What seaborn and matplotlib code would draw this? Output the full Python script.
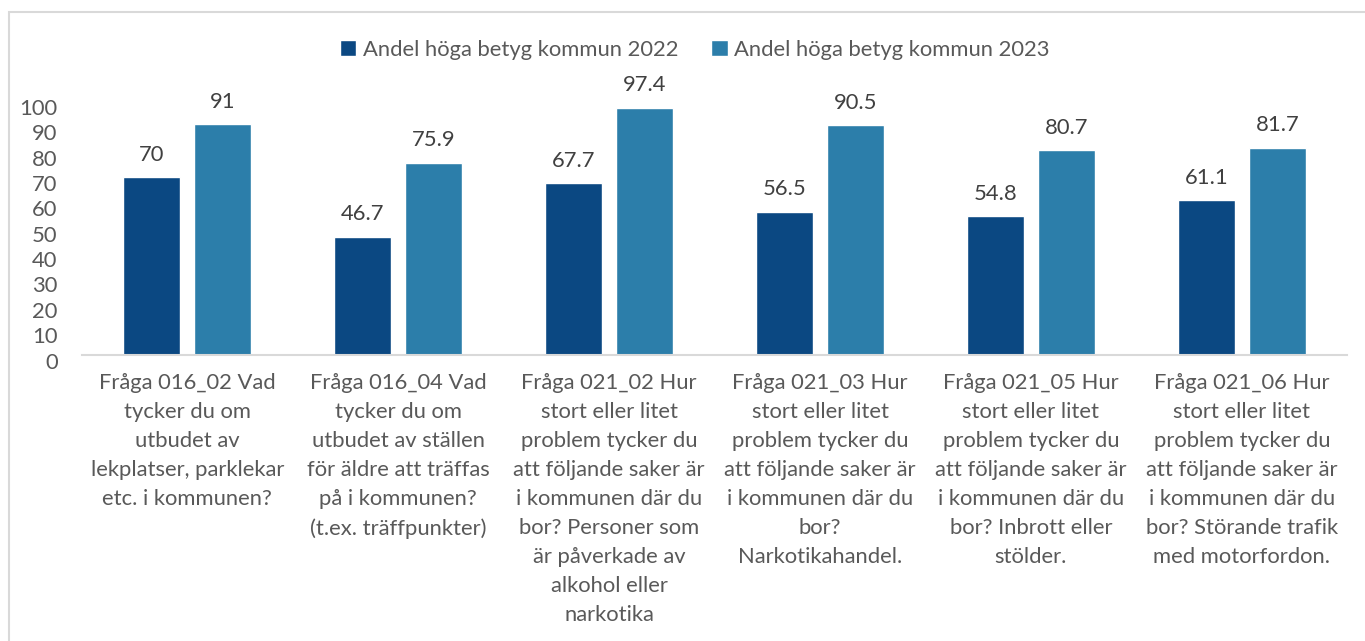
import pandas as pd
import seaborn as sns
import matplotlib.pyplot as plt
import matplotlib.transforms as mtrans
from matplotlib.patches import Rectangle

# question labels (wrapped as in the original)
questions = [
    "Fråga 016_02 Vad\ntycker du om\nutbudet av\nlekplatser, parklekar\netc. i kommunen?",
    "Fråga 016_04 Vad\ntycker du om\nutbudet av ställen\nför äldre att träffas\npå i kommunen?\n(t.ex. träffpunkter)",
    "Fråga 021_02 Hur\nstort eller litet\nproblem tycker du\natt följande saker är\ni kommunen där du\nbor? Personer som\när påverkade av\nalkohol eller\nnarkotika",
    "Fråga 021_03 Hur\nstort eller litet\nproblem tycker du\natt följande saker är\ni kommunen där du\nbor?\nNarkotikahandel.",
    "Fråga 021_05 Hur\nstort eller litet\nproblem tycker du\natt följande saker är\ni kommunen där du\nbor? Inbrott eller\nstölder.",
    "Fråga 021_06 Hur\nstort eller litet\nproblem tycker du\natt följande saker är\ni kommunen där du\nbor? Störande trafik\nmed motorfordon.",
]
series = ["Andel höga betyg kommun 2022", "Andel höga betyg kommun 2023"]
values_2022 = [70, 46.7, 67.7, 56.5, 54.8, 61.1]
values_2023 = [91, 75.9, 97.4, 90.5, 80.7, 81.7]
value_labels_2022 = ["70", "46.7", "67.7", "56.5", "54.8", "61.1"]
value_labels_2023 = ["91", "75.9", "97.4", "90.5", "80.7", "81.7"]

df = pd.DataFrame({
    "fraga": questions * 2,
    "serie": [series[0]] * 6 + [series[1]] * 6,
    "andel": values_2022 + values_2023,
})

sns.set_style("white")
plt.rcParams["font.family"] = ["Lato", "DejaVu Sans"]
grey = "#595959"
fs = 15.8

fig = plt.figure(figsize=(13.65, 6.41), dpi=100)
ax = fig.add_axes([0.060, 0.4462, 0.927, 0.3956])

sns.barplot(data=df, x="fraga", y="andel", hue="serie",
            palette=["#0B4882", "#2C7EAA"], width=0.674, gap=0.197,
            saturation=1, legend=True, ax=ax)

# data labels
ax.bar_label(ax.containers[0], labels=value_labels_2022, padding=9,
             fontsize=fs, color="#404040")
ax.bar_label(ax.containers[1], labels=value_labels_2023, padding=9,
             fontsize=fs, color="#404040")

ax.set_ylim(0, 100)
ax.set_xlim(-0.5, 5.5)
ax.set_yticks(range(0, 101, 10))
ax.set_xlabel("")
ax.set_ylabel("")
ax.tick_params(axis="y", length=0, labelsize=fs, labelcolor=grey, pad=17.5)
ax.tick_params(axis="x", length=0, labelsize=fs, labelcolor=grey, pad=13)
for t in ax.get_xticklabels():
    t.set_linespacing(1.56)
    t.set_va("top")
# y labels sit a little below their value, as in the original
shift = mtrans.ScaledTranslation(0, -4 / 72, fig.dpi_scale_trans)
for t in ax.get_yticklabels():
    t.set_transform(t.get_transform() + shift)

for s in ["top", "right", "left"]:
    ax.spines[s].set_visible(False)
ax.spines["bottom"].set_color("#D9D9D9")
ax.spines["bottom"].set_linewidth(1.5)

# legend on top
handles, labels = ax.get_legend_handles_labels()
ax.legend_.remove()
fig.legend(handles, labels, loc="center", bbox_to_anchor=(0.509, 0.922),
           ncol=2, frameon=False, fontsize=fs, labelcolor=grey,
           handlelength=0.75, handleheight=0.75, handletextpad=0.3,
           columnspacing=1.5)

# chart area border
fig.patches.append(Rectangle((9 / 1365, -0.05), 1.0, 1 - 12 / 641 + 0.05,
                             transform=fig.transFigure, fill=False,
                             edgecolor="#D9D9D9", linewidth=1.5))

fig.savefig("out.png", dpi=100)
